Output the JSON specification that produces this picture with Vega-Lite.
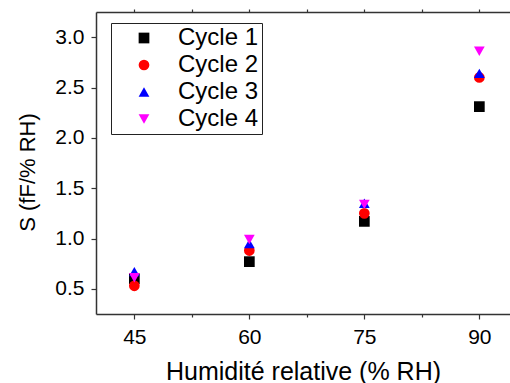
{
  "$schema": "https://vega.github.io/schema/vega-lite/v6.json",
  "width": 414,
  "height": 302,
  "autosize": {"type": "none"},
  "padding": {"left": 96, "top": 12, "right": 0, "bottom": 69},
  "background": "white",
  "config": {
    "view": {"stroke": null},
    "font": "Liberation Sans",
    "axis": {"domainColor": "#333", "domainWidth": 1.5, "tickColor": "#333", "tickWidth": 1.2, "grid": false, "labelColor": "black", "titleColor": "black", "titleFontWeight": "normal"}
  },
  "data": {
    "values": [
      {"rh": 45, "cycle": "Cycle 1", "s": 0.60},
      {"rh": 60, "cycle": "Cycle 1", "s": 0.77},
      {"rh": 75, "cycle": "Cycle 1", "s": 1.17},
      {"rh": 90, "cycle": "Cycle 1", "s": 2.31},
      {"rh": 45, "cycle": "Cycle 2", "s": 0.53},
      {"rh": 60, "cycle": "Cycle 2", "s": 0.88},
      {"rh": 75, "cycle": "Cycle 2", "s": 1.25},
      {"rh": 90, "cycle": "Cycle 2", "s": 2.60},
      {"rh": 45, "cycle": "Cycle 3", "s": 0.67},
      {"rh": 60, "cycle": "Cycle 3", "s": 0.95},
      {"rh": 75, "cycle": "Cycle 3", "s": 1.35},
      {"rh": 90, "cycle": "Cycle 3", "s": 2.64},
      {"rh": 45, "cycle": "Cycle 4", "s": 0.61},
      {"rh": 60, "cycle": "Cycle 4", "s": 0.99},
      {"rh": 75, "cycle": "Cycle 4", "s": 1.34},
      {"rh": 90, "cycle": "Cycle 4", "s": 2.86}
    ]
  },
  "layer": [
    {
      "mark": {"type": "point", "filled": true, "opacity": 1, "size": 115},
      "encoding": {
        "x": {
          "field": "rh", "type": "quantitative",
          "scale": {"domain": [40, 94], "nice": false, "zero": false},
          "axis": {
            "orient": "bottom",
            "values": [45, 52.5, 60, 67.5, 75, 82.5, 90],
            "labelExpr": "datum.value % 15 == 0 ? datum.label : ''",
            "tickSize": {"condition": {"test": "datum.value % 15 == 0", "value": 5}, "value": 3},
            "labelFontSize": 21,
            "labelPadding": 7,
            "title": "Humidité relative (% RH)",
            "titleFontSize": 25,
            "titlePadding": 12
          }
        },
        "y": {
          "field": "s", "type": "quantitative",
          "scale": {"domain": [0.25, 3.25], "nice": false, "zero": false},
          "axis": {
            "values": [0.5, 0.75, 1.0, 1.25, 1.5, 1.75, 2.0, 2.25, 2.5, 2.75, 3.0],
            "format": ".1f",
            "labelExpr": "abs(datum.value * 2 - round(datum.value * 2)) < 0.001 ? datum.label : ''",
            "tickSize": {"condition": {"test": "abs(datum.value * 2 - round(datum.value * 2)) < 0.001", "value": 5}, "value": 3},
            "labelFontSize": 21,
            "labelPadding": 7,
            "title": "S (fF/% RH)",
            "titleFontSize": 22,
            "titlePadding": 15,
            "titleY": 160
          }
        },
        "color": {
          "field": "cycle", "type": "nominal",
          "scale": {"domain": ["Cycle 1", "Cycle 2", "Cycle 3", "Cycle 4"], "range": ["#000000", "#ff0000", "#0000ff", "#ff00ff"]},
          "legend": {
            "title": null,
            "orient": "none",
            "legendX": 15,
            "legendY": 11,
            "strokeColor": "#222",
            "fillColor": "white",
            "padding": 3,
            "rowPadding": 3,
            "labelFontSize": 24,
            "symbolSize": 115,
            "symbolOffset": 18,
            "labelOffset": 22
          }
        },
        "shape": {
          "field": "cycle", "type": "nominal",
          "scale": {"domain": ["Cycle 1", "Cycle 2", "Cycle 3", "Cycle 4"], "range": ["square", "circle", "triangle-up", "triangle-down"]}
        }
      }
    },
    {
      "mark": {"type": "point", "opacity": 0},
      "encoding": {
        "x": {
          "field": "rh", "type": "quantitative",
          "scale": {"domain": [40, 94], "nice": false, "zero": false},
          "axis": {
            "orient": "top",
            "values": [45, 52.5, 60, 67.5, 75, 82.5, 90],
            "labels": false,
            "tickSize": 3,
            "title": null
          }
        },
        "y": {"field": "s", "type": "quantitative"}
      }
    }
  ],
  "resolve": {"axis": {"x": "independent"}}
}
